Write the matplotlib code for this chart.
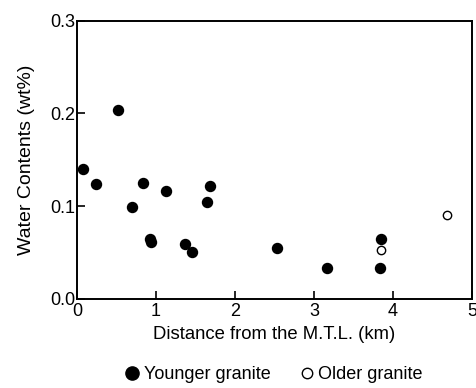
import matplotlib
matplotlib.use("Agg")
import matplotlib.pyplot as plt
from matplotlib.lines import Line2D

# Younger granite (filled circles)
young_dist = [0.07, 0.24, 0.52, 0.70, 0.83, 0.92, 0.94, 1.13, 1.37, 1.45,
              1.65, 1.69, 2.53, 3.17, 3.85, 3.84]
young_water = [0.140, 0.124, 0.204, 0.099, 0.125, 0.065, 0.061, 0.116, 0.059, 0.051,
               0.105, 0.122, 0.055, 0.033, 0.065, 0.033]

# Older granite (open circles)
old_dist = [3.85, 4.68]
old_water = [0.053, 0.091]

xticks = [0, 1, 2, 3, 4, 5]
yticks = [0.0, 0.1, 0.2, 0.3]

plt.rcParams['font.family'] = ['Liberation Sans', 'DejaVu Sans']

fig = plt.figure(figsize=(4.77, 3.88), dpi=100)
ax = fig.add_axes([0.1614, 0.2294, 0.8281, 0.7172])

ax.plot(young_dist, young_water, 'o', color='black', markersize=7.2, linestyle='none')
ax.plot(old_dist, old_water, 'o', markerfacecolor='white', markeredgecolor='black',
        markeredgewidth=1.0, markersize=6.0, linestyle='none')

ax.set_xlim(0, 5)
ax.set_ylim(0, 0.3)
ax.set_xticks(xticks)
ax.set_yticks(yticks)
ax.set_xticklabels([str(t) for t in xticks])
ax.set_yticklabels(['%.1f' % t for t in yticks])
ax.tick_params(direction='in', length=6, width=1.2, labelsize=13)
ax.tick_params(axis='x', pad=3)
ax.tick_params(axis='y', pad=1.5)
for sp in ax.spines.values():
    sp.set_linewidth(1.4)

ax.set_xlabel('Distance from the M.T.L. (km)', fontsize=13.3, labelpad=4)
ax.set_ylabel('Water Contents (wt%)', fontsize=14, labelpad=11)

handles = [
    Line2D([], [], marker='o', color='black', linestyle='none', markersize=9.5),
    Line2D([], [], marker='o', markerfacecolor='white', markeredgecolor='black',
           linestyle='none', markersize=7.5, markeredgewidth=1.0),
]
fig.legend(handles, ['Younger granite', 'Older granite'], loc='center',
           bbox_to_anchor=(0.572, 0.035), ncol=2, frameon=False, fontsize=13,
           handletextpad=0.15, columnspacing=1.5, handlelength=1.0)

fig.savefig('out.png', dpi=100)
